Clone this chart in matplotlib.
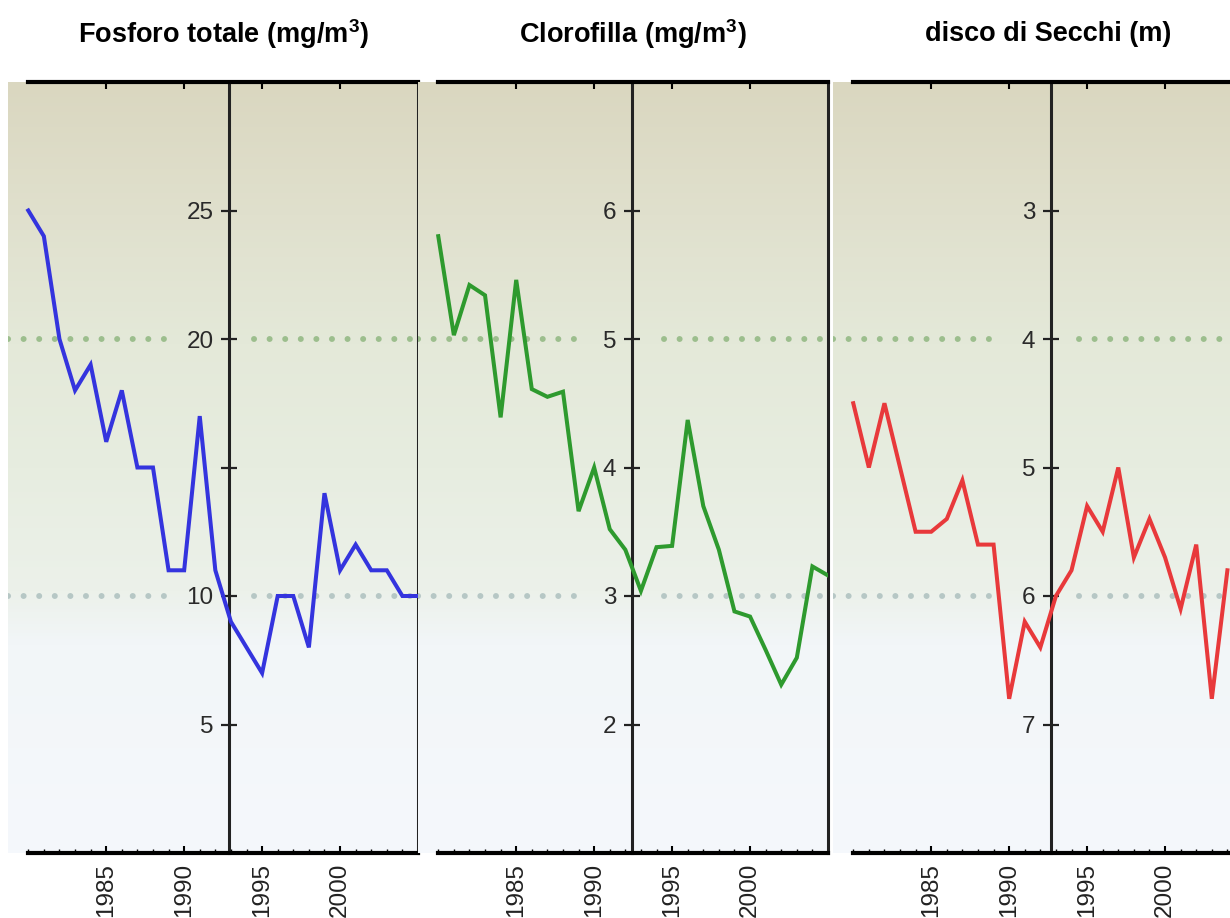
import numpy as np
import matplotlib.pyplot as plt
from matplotlib.colors import LinearSegmentedColormap
from matplotlib.ticker import FixedLocator
from matplotlib.transforms import blended_transform_factory

plt.rcParams['font.family'] = ['Liberation Sans', 'DejaVu Sans']
plt.rcParams['mathtext.fontset'] = 'custom'
plt.rcParams['mathtext.rm'] = 'Liberation Sans:bold'
plt.rcParams['mathtext.bf'] = 'Liberation Sans:bold'

# --- data ---
years = list(range(1980, 2006))
fosforo = [25, 24, 20, 18, 19, 16, 18, 15, 15, 11, 11, 17, 11, 9, 8, 7,
           10, 10, 8, 14, 11, 12, 11, 11, 10, 10]
clorofilla = [5.8, 5.03, 5.42, 5.34, 4.39, 5.46, 4.61, 4.55, 4.59, 3.66,
              4.0, 3.52, 3.36, 3.04, 3.38, 3.39, 4.37, 3.70, 3.36, 2.88,
              2.84, 2.58, 2.31, 2.52, 3.23, 3.16]
secchi_years = list(range(1980, 2005))
secchi = [4.5, 5.0, 4.5, 5.0, 5.5, 5.5, 5.4, 5.1, 5.6, 5.6, 6.8, 6.2, 6.4,
          6.0, 5.8, 5.3, 5.5, 5.0, 5.7, 5.4, 5.7, 6.1, 5.6, 6.8, 5.8]

titles = [r'Fosforo totale (mg/m$^{\mathbf{3}}$)',
          r'Clorofilla (mg/m$^{\mathbf{3}}$)',
          'disco di Secchi (m)']
year_ticks = [1985, 1990, 1995, 2000]
y_ticks = [[5, 10, 15, 20, 25], [2, 3, 4, 5, 6], [3, 4, 5, 6, 7]]
y_labels = [['5', '10', '', '20', '25'], ['2', '3', '4', '5', '6'],
            ['3', '4', '5', '6', '7']]
upper_level = [20, 5, 4]   # green dotted reference
lower_level = [10, 3, 6]   # grey dotted reference

# --- layout ---
W, H = 1230, 918
fig = plt.figure(figsize=(W / 100, H / 100), dpi=100)

panels = [
    dict(x=years, y=fosforo, color='#3434de', ylim=(0, 30), left=8, axpos=1992.9),
    dict(x=years, y=clorofilla, color='#2e9a2e', ylim=(1, 7), left=418, axpos=1992.45),
    dict(x=secchi_years, y=secchi, color='#e8393b', ylim=(8, 2), left=833, axpos=1992.7),
]
top_px, bottom_px, width_px = 82, 853, 410
xlim = (1978.7, 2005)

bg = LinearSegmentedColormap.from_list('bg', [
    (0.0, '#f5f8fc'), (0.27, '#f2f6f8'), (0.34, '#ecf1ea'),
    (0.50, '#e7ede0'), (0.66, '#e4e9d9'), (0.83, '#e0e0cd'), (1.0, '#dad7c0')])
grad = np.linspace(0, 1, 256).reshape(-1, 1)

for i, p in enumerate(panels):
    ax = fig.add_axes([p['left'] / W, 1 - bottom_px / H,
                       width_px / W, (bottom_px - top_px) / H])
    ax.imshow(grad, cmap=bg, aspect='auto', extent=[0, 1, 0, 1],
              transform=ax.transAxes, origin='lower', zorder=0)
    ax.set_xlim(*xlim)
    ax.set_ylim(*p['ylim'])

    # dotted reference lines, broken around the axis labels
    for lvl, c in [(upper_level[i], '#9cbe8d'), (lower_level[i], '#b6c7c5')]:
        for seg in [(xlim[0], 1989.1), (1994.5, xlim[1])]:
            ax.plot(seg, [lvl, lvl], color=c, lw=4.3, ls=(0, (0.01, 2.6)),
                    dash_capstyle='round', zorder=1)

    ax.plot(p['x'], p['y'], color=p['color'], lw=2.9, zorder=3,
            solid_joinstyle='miter')

    # frame
    for s in ['top', 'bottom']:
        ax.spines[s].set_bounds(1980, 2005)
        ax.spines[s].set_linewidth(3)
        ax.spines[s].set_color('black')
    ax.spines['left'].set_position(('data', p['axpos']))
    ax.spines['left'].set_linewidth(2.2)
    ax.spines['left'].set_color('#222222')
    ax.spines['right'].set_linewidth(2.2)
    ax.spines['right'].set_color('#222222')

    ax.set_yticks(y_ticks[i])
    ax.set_yticklabels(y_labels[i])
    ax.tick_params(axis='y', direction='inout', length=11, width=1.6,
                   color='#222222', labelcolor='#2a2a2a', labelsize=17.5,
                   pad=6, left=True, right=False)

    ax.set_xticks(year_ticks)
    ax.xaxis.set_minor_locator(FixedLocator(range(1980, 2006)))
    ax.tick_params(axis='x', which='major', direction='in', length=5,
                   width=1.5, top=True, bottom=True, labeltop=False,
                   labelrotation=90, labelsize=17.5, labelcolor='#222222', pad=7)
    ax.tick_params(axis='x', which='minor', direction='in', length=3,
                   width=1, top=False, bottom=True)

    tr = blended_transform_factory(ax.transData, fig.transFigure)
    ax.text(1992.5, 1 - 34 / H, titles[i], transform=tr, ha='center',
            va='center', fontsize=19.5, fontweight='bold', color='black')

fig.savefig('out.png', dpi=100)
